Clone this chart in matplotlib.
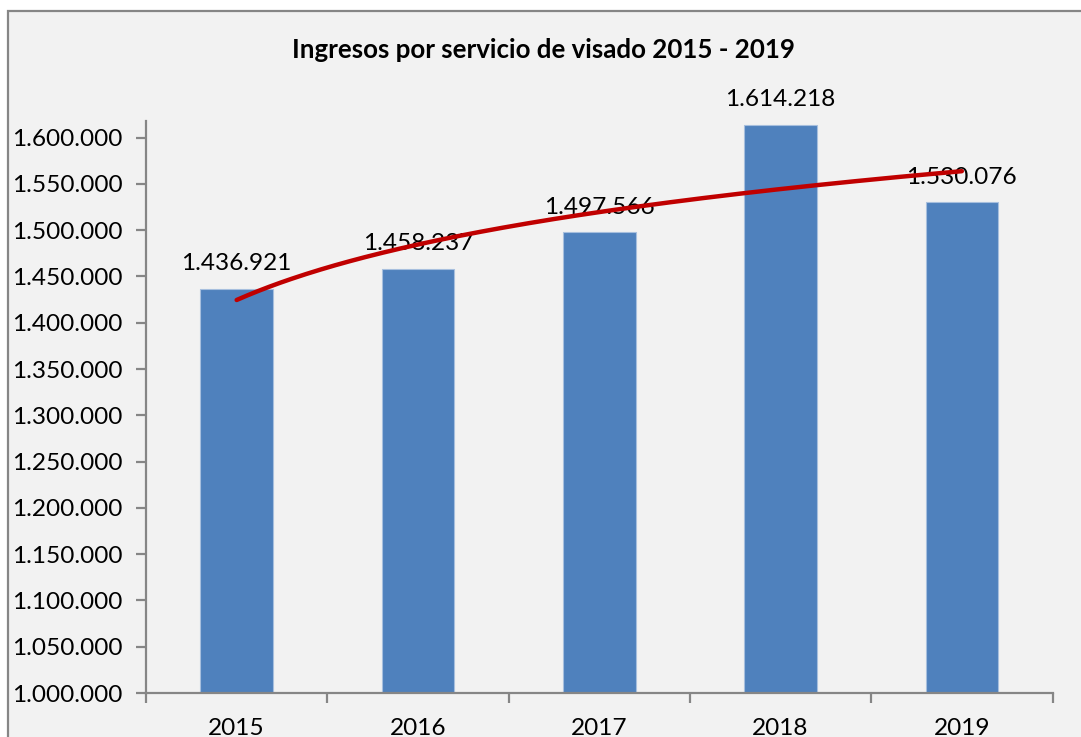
import numpy as np
from matplotlib import pyplot as plt
from matplotlib.patches import Rectangle

years = ['2015', '2016', '2017', '2018', '2019']
ingresos = [1436921, 1458237, 1497566, 1614218, 1530076]
labels = ['1.436.921', '1.458.237', '1.497.566', '1.614.218', '1.530.076']
yticks = np.arange(1000000, 1600001, 50000)

bg = '#f2f2f2'
axcol = '#868686'
fs = 17.6
plt.rcParams['font.family'] = ['Lato', 'DejaVu Sans']

fig = plt.figure(figsize=(10.81, 7.37), dpi=100, facecolor='white')
# chart area with border (cropped on the right/bottom)
fig.patches.append(Rectangle((8/1081, -0.1), 1.2, 1.1 - 11/737, transform=fig.transFigure,
                             facecolor=bg, edgecolor=axcol, linewidth=1.6, zorder=-10))

ax = fig.add_axes([146/1081, 1 - 693/737, (1052.5 - 146)/1081, (693 - 121)/737])
ax.set_facecolor(bg)

x = np.arange(1, len(years) + 1)
ax.bar(x, ingresos, width=0.4, color='#4f81bd', edgecolor='#a7bfde', linewidth=0.8, zorder=2)

# data labels
for xi, v, lab in zip(x, ingresos, labels):
    ax.annotate(lab, (xi, v), xytext=(0, 13.5), textcoords='offset points',
                ha='center', va='baseline', fontsize=fs, color='black', zorder=3)

# logarithmic trendline (fit like Excel)
a, b = np.polyfit(np.log(x), ingresos, 1)
xt = np.linspace(1, 5, 200)
ax.plot(xt, a*np.log(xt) + b, color='#c00000', linewidth=3.2, solid_capstyle='round', zorder=4)

ax.set_xlim(0.5, 5.5)
ax.set_ylim(1000000, 1618000)
ax.set_yticks(yticks)
ax.set_yticklabels([f'{v:,}'.replace(',', '.') for v in yticks])

ax.set_xticks(np.arange(0.5, 5.6, 1))
ax.set_xticklabels([])
ax.set_xticks(x, minor=True)
ax.set_xticklabels(years, minor=True)
ax.tick_params(axis='x', which='major', length=7, width=1.6, color=axcol, direction='out')
ax.tick_params(axis='x', which='minor', length=0, pad=18, labelsize=fs)
ax.tick_params(axis='y', length=7, width=1.6, color=axcol, direction='out', pad=10, labelsize=fs)

for s in ['top', 'right']:
    ax.spines[s].set_visible(False)
for s in ['left', 'bottom']:
    ax.spines[s].set_color(axcol)
    ax.spines[s].set_linewidth(1.6)

fig.text(543/1081, 1 - 58/737, 'Ingresos por servicio de visado 2015 - 2019',
         ha='center', va='baseline', fontsize=18.6, fontweight='bold')

plt.savefig('out.png', dpi=100, facecolor=fig.get_facecolor())
